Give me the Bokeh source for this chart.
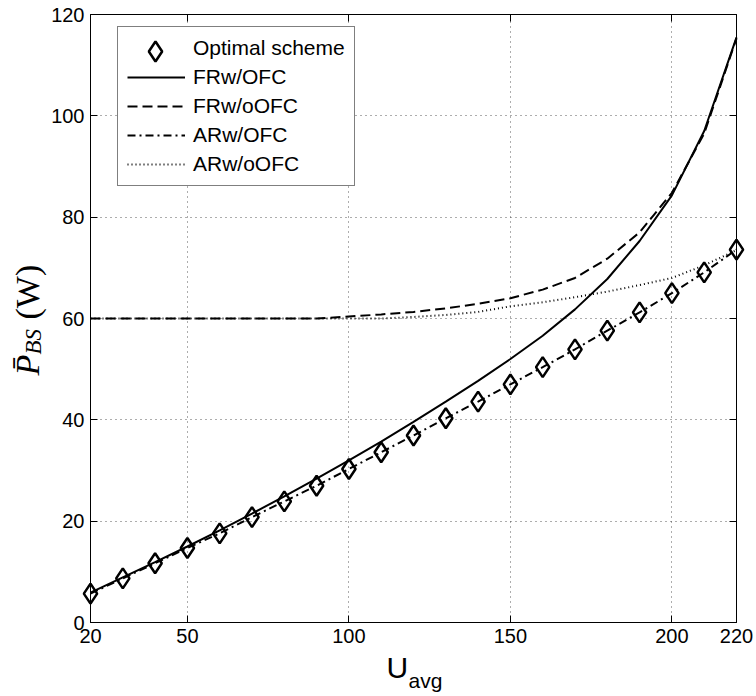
import math
from bokeh.plotting import figure
from bokeh.models import (FixedTicker, LinearAxis, Label, Legend, LegendItem, Range1d, Grid)
from bokeh.embed import file_html
from bokeh.resources import INLINE

# ---------------- data ----------------
u_avg = [20, 30, 40, 50, 60, 70, 80, 90, 100, 110, 120, 130, 140, 150, 160, 170, 180, 190, 200, 210, 220]
optimal = [5.7, 8.7, 11.7, 14.7, 17.6, 20.8, 23.9, 27.0, 30.3, 33.6, 36.9, 40.3, 43.6, 47.0, 50.4, 53.9, 57.6, 61.2, 65.0, 69.1, 73.6]
fr_ofc = [5.9, 8.9, 11.9, 15.0, 18.2, 21.5, 24.9, 28.4, 32.0, 35.7, 39.6, 43.6, 47.7, 52.0, 56.6, 61.8, 67.8, 75.3, 84.3, 97.0, 115.5]
fr_oofc = [60.0, 60.0, 60.0, 60.0, 60.0, 60.0, 60.0, 60.0, 60.4, 60.8, 61.3, 62.0, 62.9, 64.0, 65.7, 68.0, 71.8, 77.0, 84.8, 96.5, 115.3]
ar_ofc = [5.7, 8.7, 11.7, 14.7, 17.6, 20.8, 23.9, 27.0, 30.3, 33.6, 36.9, 40.3, 43.6, 47.0, 50.4, 53.9, 57.6, 61.2, 65.0, 69.1, 73.6]
ar_oofc = [60.0, 60.0, 60.0, 60.0, 60.0, 60.0, 60.0, 60.0, 60.0, 60.0, 60.3, 60.7, 61.3, 62.4, 63.2, 64.2, 65.3, 66.6, 68.0, 70.5, 73.5]

x_ticks = [20, 50, 100, 150, 200, 220]
y_ticks = [0, 20, 40, 60, 80, 100, 120]
x_lim = (20, 220)
y_lim = (0, 120)

series_labels = ["Optimal scheme", "FRw/OFC", "FRw/oOFC", "ARw/OFC", "ARw/oOFC"]

# ---------------- layout (page pixels) ----------------
W, H = 756, 696
BOX_L, BOX_R, BOX_T, BOX_B = 90, 736, 14, 622   # plot box inside the page

# The frame covers the whole page; the plot box is drawn with axes at fixed
# data locations, so text placed outside the box is never clipped.
sx = (BOX_R - BOX_L) / (x_lim[1] - x_lim[0])
sy = (BOX_B - BOX_T) / (y_lim[1] - y_lim[0])
x_range = Range1d(x_lim[0] - BOX_L / sx, x_lim[1] + (W - BOX_R) / sx)
y_range = Range1d(y_lim[0] - (H - BOX_B) / sy, y_lim[1] + BOX_T / sy)

p = figure(width=W, height=H, output_backend="svg", toolbar_location=None,
           x_range=x_range, y_range=y_range,
           min_border=0, min_border_left=0, min_border_right=0, min_border_top=0, min_border_bottom=0,
           x_axis_type=None, y_axis_type=None)
p.background_fill_color = "white"
p.border_fill_color = "white"
p.outline_line_color = None

TICK_FONT = "Liberation Sans"
SERIF = "Liberation Serif"

xt = FixedTicker(ticks=x_ticks)
yt = FixedTicker(ticks=y_ticks)

def make_axis(ticker, loc, bounds, show_labels):
    ax = LinearAxis(ticker=ticker, fixed_location=loc, bounds=bounds)
    ax.axis_line_color = "black"
    ax.axis_line_width = 1
    ax.major_tick_in = 7
    ax.major_tick_out = 0
    ax.minor_tick_line_color = None
    ax.major_tick_line_color = "black"
    if show_labels:
        ax.major_label_text_font = TICK_FONT
        ax.major_label_text_font_size = "20px"
        ax.major_label_text_color = "black"
        ax.major_label_standoff = 6
    else:
        ax.major_label_text_font_size = "0px"
        ax.major_label_text_alpha = 0
        ax.major_label_standoff = 0
    return ax

# grid, limited to the plot box
GRID_KW = dict(grid_line_color="#333333", grid_line_dash="1 4", grid_line_width=1, grid_line_alpha=0.8)
try:
    gx = Grid(dimension=0, ticker=xt, bounds=x_lim, cross_bounds=y_lim, **GRID_KW)
    gy = Grid(dimension=1, ticker=yt, bounds=y_lim, cross_bounds=x_lim, **GRID_KW)
    p.add_layout(gx)
    p.add_layout(gy)
except Exception:
    p.segment(x0=x_ticks, y0=[y_lim[0]] * len(x_ticks), x1=x_ticks, y1=[y_lim[1]] * len(x_ticks),
              line_color="#333333", line_dash="1 4", line_width=1, line_alpha=0.8)
    p.segment(x0=[x_lim[0]] * len(y_ticks), y0=y_ticks, x1=[x_lim[1]] * len(y_ticks), y1=y_ticks,
              line_color="#333333", line_dash="1 4", line_width=1, line_alpha=0.8)

p.add_layout(make_axis(xt, y_lim[0], x_lim, True), "below")
p.add_layout(make_axis(yt, x_lim[0], y_lim, True), "left")
p.add_layout(make_axis(xt, y_lim[1], x_lim, False), "above")
p.add_layout(make_axis(yt, x_lim[1], y_lim, False), "right")

LW = 2
r_fr_ofc = p.line(u_avg, fr_ofc, line_color="black", line_width=LW)
r_fr_oofc = p.line(u_avg, fr_oofc, line_color="black", line_width=LW, line_dash="10 5")
r_ar_ofc = p.line(u_avg, ar_ofc, line_color="black", line_width=LW, line_dash="8 4 2 4")
r_ar_oofc = p.line(u_avg, ar_oofc, line_color="black", line_width=LW, line_dash="1 3")
r_opt = p.scatter(u_avg, optimal, marker="diamond", size=20, line_color="black", line_width=2.5, fill_color=None)
# invisible stand-in, so the boxed legend keeps the row for the diamond entry
r_blank = p.scatter([], [], marker="diamond", size=1, line_alpha=0, fill_alpha=0)

# legend (location = page-pixel left, distance of legend bottom from page bottom)
legend = Legend(items=[
    LegendItem(label=series_labels[0], renderers=[r_blank]),
    LegendItem(label=series_labels[1], renderers=[r_fr_ofc]),
    LegendItem(label=series_labels[2], renderers=[r_fr_oofc]),
    LegendItem(label=series_labels[3], renderers=[r_ar_ofc]),
    LegendItem(label=series_labels[4], renderers=[r_ar_oofc]),
], location=(117, H - 186))
legend.label_text_font = TICK_FONT
legend.label_text_font_size = "21px"
legend.label_text_color = "black"
legend.glyph_width = 58
legend.glyph_height = 22
legend.label_height = 22
legend.label_standoff = 8
legend.spacing = 5
legend.padding = 9
legend.margin = 0
legend.border_line_color = "black"
legend.border_line_width = 1
legend.background_fill_color = "white"
legend.background_fill_alpha = 1
p.add_layout(legend, "center")

# large diamond for the legend's first row (legend marker size = 0.4 * glyph box)
legend_d = Legend(items=[LegendItem(label=" ", renderers=[r_opt])], location=(126, H - 76))
legend_d.glyph_width = 58
legend_d.glyph_height = 50
legend_d.label_height = 50
legend_d.padding = 0
legend_d.margin = 0
legend_d.spacing = 0
legend_d.label_standoff = 0
legend_d.label_text_font_size = "10px"
legend_d.border_line_color = None
legend_d.background_fill_alpha = 0
p.add_layout(legend_d, "center")

def add_text(px, py, text, font, size, style="normal", angle=0.0):
    """Text anchored (left, alphabetic baseline) at page pixel (px, py)."""
    p.add_layout(Label(x=px, y=H - py, x_units="screen", y_units="screen", text=text,
                       text_font=font, text_font_size=size, text_font_style=style,
                       text_color="black", angle=angle, text_align="left",
                       text_baseline="alphabetic"))

# x label  U_avg
add_text(386, 667, "U", TICK_FONT, "30px")
add_text(408, 680, "avg", TICK_FONT, "21px")
# y label  P̄_BS (W), rotated
y0 = 375
add_text(27, y0, "P\u0304", SERIF, "34px", "italic", math.pi / 2)
add_text(33, y0 - 21, "BS", SERIF, "23px", "italic", math.pi / 2)
add_text(27, y0 - 56, "(W)", SERIF, "34px", "normal", math.pi / 2)

open("out.html", "w").write(file_html(p, INLINE))
